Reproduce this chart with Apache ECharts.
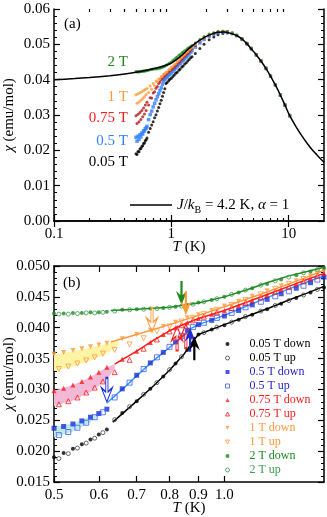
<!DOCTYPE html>
<html lang="en">
<head>
    <meta charset="UTF-8">
    <title>chi vs T</title>
    <script src="https://cdn.jsdelivr.net/npm/echarts@6/dist/echarts.min.js"></script>
    <style>
        html, body {margin: 0; padding: 0; background: #fff;}
        #chart {width: 327px; height: 517px;}
    </style>
</head>
<body>
<div id="chart"></div>
<script>
    // temperature grids (K): cooling ("down") and warming ("up") runs, high-T part of panel (a)
    let tDn = [0.50, 0.52, 0.54, 0.56, 0.58, 0.60, 0.62, 0.66, 0.70, 0.74, 0.78, 0.82, 0.86, 0.90, 0.95, 1.00, 1.06, 1.12, 1.19, 1.26, 1.34, 1.42, 1.50];
    let tUp = [0.51, 0.53, 0.55, 0.57, 0.59, 0.61, 0.64, 0.68, 0.72, 0.76, 0.80, 0.84, 0.88, 0.92, 0.97, 1.03, 1.09, 1.16, 1.23, 1.30, 1.38, 1.46];
    let hiT = [1.6, 1.75, 1.9, 2.1, 2.3, 2.5, 2.75, 3.0, 3.3, 3.6, 4.0, 4.4, 4.8, 5.3, 5.8, 6.4, 7.0, 7.7, 8.5, 9.3, 10.2];

    // chi (emu/mol)
    let chi005Dn = [0.0190, 0.0197, 0.0204, 0.0211, 0.0219, 0.0227, 0.0235, 0.0262, 0.0281, 0.0301, 0.0321, 0.0342, 0.0364, 0.0389, 0.0397, 0.0404, 0.0413, 0.0421, 0.0430, 0.0439, 0.0448, 0.0457, 0.0465];
    let chi005Up = [0.0188, 0.0196, 0.0205, 0.0213, 0.0221, 0.0230, 0.0251, 0.0272, 0.0292, 0.0311, 0.0332, 0.0353, 0.0374, 0.0392, 0.0401, 0.0409, 0.0418, 0.0427, 0.0436, 0.0444, 0.0453, 0.0462];
    let chi05Dn = [0.0237, 0.0240, 0.0244, 0.0249, 0.0255, 0.0261, 0.0268, 0.0301, 0.0323, 0.0343, 0.0360, 0.0377, 0.0396, 0.0405, 0.0412, 0.0419, 0.0428, 0.0437, 0.0446, 0.0455, 0.0464, 0.0473, 0.0482];
    let chi05Up = [0.0226, 0.0231, 0.0238, 0.0246, 0.0255, 0.0263, 0.0287, 0.0311, 0.0333, 0.0352, 0.0369, 0.0387, 0.0401, 0.0408, 0.0416, 0.0424, 0.0433, 0.0442, 0.0451, 0.0459, 0.0468, 0.0478];
    let chi075Dn = [0.0298, 0.0302, 0.0307, 0.0313, 0.0320, 0.0328, 0.0336, 0.0349, 0.0362, 0.0376, 0.0389, 0.0400, 0.0408, 0.0415, 0.0422, 0.0428, 0.0436, 0.0444, 0.0453, 0.0462, 0.0471, 0.0480, 0.0488];
    let chi075Up = [0.0276, 0.0281, 0.0287, 0.0295, 0.0303, 0.0313, 0.0328, 0.0348, 0.0366, 0.0381, 0.0394, 0.0404, 0.0412, 0.0418, 0.0425, 0.0432, 0.0440, 0.0449, 0.0458, 0.0466, 0.0475, 0.0484];
    let chi1Dn = [0.0357, 0.0360, 0.0363, 0.0366, 0.0369, 0.0372, 0.0375, 0.0382, 0.0389, 0.0396, 0.0402, 0.0409, 0.0416, 0.0421, 0.0428, 0.0435, 0.0443, 0.0451, 0.0460, 0.0468, 0.0476, 0.0484, 0.0492];
    let chi1Up = [0.0333, 0.0337, 0.0342, 0.0347, 0.0352, 0.0358, 0.0364, 0.0373, 0.0383, 0.0394, 0.0402, 0.0410, 0.0416, 0.0422, 0.0429, 0.0437, 0.0445, 0.0454, 0.0463, 0.0471, 0.0479, 0.0488];
    let chi2Dn = [0.0423, 0.0423, 0.0424, 0.0424, 0.0425, 0.0425, 0.0426, 0.0429, 0.0430, 0.0431, 0.0432, 0.0434, 0.0437, 0.0441, 0.0445, 0.0450, 0.0457, 0.0464, 0.0471, 0.0478, 0.0485, 0.0491, 0.0497];
    let chi2Up = [0.0422, 0.0422, 0.0423, 0.0424, 0.0424, 0.0425, 0.0427, 0.0429, 0.0430, 0.0431, 0.0433, 0.0435, 0.0438, 0.0442, 0.0447, 0.0454, 0.0461, 0.0469, 0.0476, 0.0482, 0.0489, 0.0494];

    let hi005 = [0.0474, 0.0488, 0.0500, 0.0513, 0.0521, 0.0527, 0.0531, 0.0532, 0.0530, 0.0524, 0.0514, 0.0501, 0.0487, 0.0469, 0.0452, 0.0431, 0.0409, 0.0384, 0.0355, 0.0327, 0.0297];
    let hi05 = [0.0492, 0.0504, 0.0514, 0.0523, 0.0529, 0.0533, 0.0535, 0.0535, 0.0531, 0.0525, 0.0515, 0.0502, 0.0488, 0.0470, 0.0453, 0.0432, 0.0410, 0.0385, 0.0356, 0.0328, 0.0298];
    let hi075 = [0.0497, 0.0509, 0.0518, 0.0526, 0.0531, 0.0535, 0.0536, 0.0536, 0.0532, 0.0526, 0.0516, 0.0503, 0.0489, 0.0471, 0.0454, 0.0433, 0.0411, 0.0386, 0.0357, 0.0329, 0.0299];
    let hi1 = [0.0500, 0.0511, 0.0520, 0.0528, 0.0533, 0.0537, 0.0538, 0.0537, 0.0533, 0.0527, 0.0517, 0.0504, 0.0490, 0.0472, 0.0455, 0.0434, 0.0412, 0.0387, 0.0358, 0.0330, 0.0300];
    let hi2 = [0.0504, 0.0514, 0.0522, 0.0529, 0.0533, 0.0536, 0.0537, 0.0536, 0.0532, 0.0526, 0.0516, 0.0503, 0.0489, 0.0471, 0.0454, 0.0433, 0.0411, 0.0386, 0.0357, 0.0329, 0.0299];

    // calculation J/kB = 4.2 K, alpha = 1
    let thT = [0.1, 0.15, 0.2, 0.3, 0.4, 0.5, 0.6, 0.7, 0.8, 0.9, 1.0, 1.2, 1.4, 1.6, 1.9, 2.2, 2.5, 2.8, 3.2, 3.6, 4.0, 4.4, 4.8, 5.3, 5.8, 6.4, 7.0, 7.7, 8.5, 9.3, 10.2, 11.5, 13, 14.5, 16, 18, 20];
    let thChi = [0.0400, 0.0403, 0.0406, 0.0411, 0.0416, 0.0421, 0.0426, 0.0431, 0.0436, 0.0441, 0.0447, 0.0466, 0.0487, 0.0503, 0.0519, 0.0529, 0.0534, 0.0535, 0.0531, 0.0525, 0.0515, 0.0502, 0.0487, 0.0470, 0.0453, 0.0432, 0.0410, 0.0385, 0.0356, 0.0328, 0.0298, 0.0268, 0.0240, 0.0218, 0.0200, 0.0182, 0.0166];

    // guide lines in panel (b)
    let line005T = [0.635, 0.70, 0.75, 0.80, 0.85, 0.88, 0.90, 1.0, 1.1, 1.2, 1.3, 1.4, 1.5];
    let line005 = [0.0247, 0.0281, 0.0306, 0.0331, 0.0358, 0.0378, 0.0389, 0.0405, 0.0419, 0.0432, 0.0445, 0.0456, 0.0467];
    let line05T = [0.62, 0.66, 0.70, 0.75, 0.80, 0.85, 0.87, 0.90, 1.0, 1.1, 1.2, 1.3, 1.4, 1.5];
    let line05 = [0.0278, 0.0300, 0.0322, 0.0347, 0.0368, 0.0388, 0.0398, 0.0405, 0.0420, 0.0436, 0.0450, 0.0463, 0.0474, 0.0484];
    let line075T = [0.64, 0.70, 0.75, 0.80, 0.85, 0.90, 1.0, 1.1, 1.2, 1.3, 1.4, 1.5];
    let line075 = [0.0341, 0.0362, 0.0380, 0.0395, 0.0406, 0.0415, 0.0428, 0.0442, 0.0455, 0.0467, 0.0478, 0.0488];
    let line1T = [0.63, 0.70, 0.80, 0.90, 1.0, 1.1, 1.2, 1.3, 1.4, 1.5];
    let line1 = [0.0377, 0.0389, 0.0405, 0.0420, 0.0434, 0.0447, 0.0459, 0.0471, 0.0482, 0.0493];
    let line2T = [0.63, 0.70, 0.80, 0.90, 1.0, 1.1, 1.2, 1.3, 1.4, 1.5];
    let line2 = [0.0428, 0.0430, 0.0433, 0.0440, 0.0450, 0.0462, 0.0474, 0.0484, 0.0491, 0.0498];

    // hysteresis bands
    let band1T = [0.50, 0.54, 0.58, 0.62, 0.65];
    let band1Hi = [0.0357, 0.0362, 0.0368, 0.0374, 0.0378];
    let band1Lo = [0.0330, 0.0337, 0.0347, 0.0358, 0.0372];
    let band075T = [0.50, 0.54, 0.58, 0.62, 0.64];
    let band075Hi = [0.0298, 0.0307, 0.0320, 0.0336, 0.0341];
    let band075Lo = [0.0273, 0.0282, 0.0296, 0.0316, 0.0334];
    let band05T = [0.50, 0.54, 0.58, 0.61];
    let band05Hi = [0.0239, 0.0245, 0.0256, 0.0266];
    let band05Lo = [0.0222, 0.0232, 0.0247, 0.0262];

    // arrow tips (T, chi)
    let arrowT = [0.84, 0.855, 0.745, 0.825, 0.855, 0.62, 0.87, 0.885];
    let arrowChi = [0.0437, 0.0420, 0.0393, 0.0402, 0.0406, 0.0280, 0.0400, 0.0386];

    let topTicks = [0.1, 1, 10];
    let topMinor = [0.2, 0.3, 0.4, 0.5, 0.6, 0.7, 0.8, 0.9, 2, 3, 4, 5, 6, 7, 8, 9];
    let botTicks = [0.5, 0.6, 0.7, 0.8, 0.9, 1.0];

    function pairs(ts, vs) {
        return ts.map(function (t, i) { return [t, vs[i]]; });
    }

    let serif = 'Liberation Serif';
    let black = '#000';
    let blue = '#2f80ff', blueDk = '#1c2fd6', blueLn = '#3399ff', blueTx = '#2424c8', blueOpen = '#3b5bff';
    let red = '#ff1a1a', redDk = '#b3161b';
    let orange = '#ff9a3a';
    let green = '#1e8a1e', greenLt = '#3a9a50';
    let triDown = 'path://M0,0 L10,0 L5,10 Z';

    let downPath = 'path://M4,0 L6,0 L6,14 L10,10 L5,24 L0,10 L4,14 Z';
    let upPath = 'path://M5,0 L10,14 L6,10 L6,24 L4,24 L4,10 L0,14 Z';
    let arrowLook = [
        ['down', green, false], ['down', orange, false], ['down', orange, true],
        ['up', red, true], ['up', red, true], ['down', blueDk, true],
        ['up', blueDk, false], ['up', black, false]
    ];
    let arrowData = arrowT.map(function (t, i) {
        let a = arrowLook[i];
        return {
            coord: [t, arrowChi[i]],
            symbol: a[0] === 'down' ? downPath : upPath,
            symbolSize: [11, 24],
            symbolOffset: [0, a[0] === 'down' ? -12 : 12],
            itemStyle: a[2] ? {color: 'none', borderColor: a[1], borderWidth: 1.3} : {color: a[1]}
        };
    });

    function bandSeries(ts, lo, hi, color) {
        return {
            type: 'custom', xAxisIndex: 4, yAxisIndex: 3, silent: true, z: 1,
            data: ts.map(function (t, i) { return [t, lo[i], hi[i]]; }),
            encode: {x: 0, y: [1, 2]},
            renderItem: function (params, api) {
                if (params.dataIndex !== 0) return null;
                let pts = [];
                ts.forEach(function (t, i) { pts.push(api.coord([t, hi[i]])); });
                for (let i = ts.length - 1; i >= 0; i--) pts.push(api.coord([ts[i], lo[i]]));
                return {type: 'polygon', shape: {points: pts}, style: {fill: color}};
            }
        };
    }

    function topScatter(name, dn, up, hi, color, symbol, size) {
        return {
            name: name, type: 'scatter', xAxisIndex: 0, yAxisIndex: 0,
            symbol: symbol, symbolSize: size, itemStyle: {color: color},
            data: pairs(tDn, dn).concat(pairs(tUp, up), pairs(hiT, hi))
        };
    }

    function openStyle(color) {
        return {color: 'none', borderColor: color, borderWidth: 1};
    }

    function botScatter(name, ts, vs, color, symbol, size, open) {
        return {
            name: name, type: 'scatter', xAxisIndex: 4, yAxisIndex: 3, z: 4,
            symbol: symbol, symbolSize: size,
            itemStyle: open ? openStyle(color) : {color: color},
            data: pairs(ts, vs)
        };
    }

    function botLine(ts, vs, color) {
        return {
            type: 'line', xAxisIndex: 4, yAxisIndex: 3, z: 3, symbol: 'none', silent: true,
            lineStyle: {color: color, width: 1.5}, data: pairs(ts, vs)
        };
    }

    let labelFont = {fontFamily: serif, fontSize: 15, color: black};
    let nameStyle = {
        fontFamily: serif, fontSize: 15, color: black,
        rich: {i: {fontFamily: serif, fontSize: 15, fontStyle: 'italic', color: black}}
    };
    let frameLine = {show: true, lineStyle: {color: black, width: 1.5}};

    function logAxis(grid, pos, min, max, ticks, len, labels, fmt) {
        return {
            type: 'log', gridIndex: grid, position: pos, min: min, max: max,
            axisLine: len > 3 ? frameLine : {show: false},
            axisTick: {inside: true, length: len, customValues: ticks, lineStyle: {color: black, width: 1.2}},
            axisLabel: labels ? Object.assign({customValues: ticks, margin: 6, formatter: fmt}, labelFont) : {show: false},
            splitLine: {show: false}
        };
    }

    function valAxis(grid, pos, min, max, step, labels, digits) {
        return {
            type: 'value', gridIndex: grid, position: pos, min: min, max: max, interval: step,
            axisLine: frameLine,
            axisTick: {inside: true, length: 6, lineStyle: {color: black, width: 1.2}},
            minorTick: {show: true, splitNumber: 5, length: 3, lineStyle: {color: black, width: 1}},
            axisLabel: labels ? Object.assign({margin: 4, formatter: function (v) { return v.toFixed(digits); }}, labelFont) : {show: false},
            splitLine: {show: false}
        };
    }

    let xs = [
        logAxis(0, 'bottom', 0.1, 20, topTicks, 6, true, function (v) { return String(v); }),
        logAxis(0, 'top', 0.1, 20, topTicks, 6, false),
        logAxis(2, 'bottom', 0.1, 20, topMinor, 3, false),
        logAxis(2, 'top', 0.1, 20, topMinor, 3, false),
        logAxis(1, 'bottom', 0.5, 1.5, botTicks, 6, true, function (v) { return v.toFixed(1); }),
        logAxis(1, 'top', 0.5, 1.5, botTicks, 6, false)
    ];
    xs[0].name = '{i|T} (K)';
    xs[4].name = '{i|T} (K)';
    [xs[0], xs[4]].forEach(function (a) {
        a.nameLocation = 'middle';
        a.nameGap = 19;
        a.nameMoveOverlap = false;
        a.nameTextStyle = nameStyle;
    });

    let ys = [
        valAxis(0, 'left', 0, 0.06, 0.01, true, 2),
        valAxis(0, 'right', 0, 0.06, 0.01, false),
        {type: 'value', gridIndex: 2, show: false, min: 0, max: 1},
        valAxis(1, 'left', 0.015, 0.05, 0.005, true, 3),
        valAxis(1, 'right', 0.015, 0.05, 0.005, false)
    ];
    [ys[0], ys[3]].forEach(function (a) {
        a.name = '{i|χ} (emu/mol)';
        a.nameLocation = 'middle';
        a.nameGap = 37;
        a.nameMoveOverlap = false;
        a.nameTextStyle = nameStyle;
    });

    let legendB = [
        ['0.05 T down', black, black, false], ['0.05 T up', black, '#444', true],
        ['0.5 T down', blueTx, blueDk, false], ['0.5 T up', blueTx, blueOpen, true],
        ['0.75 T down', red, red, false], ['0.75 T up', red, red, true],
        ['1 T down', orange, orange, false], ['1 T up', orange, orange, true],
        ['2 T down', green, green, false], ['2 T up', greenLt, greenLt, true]
    ].map(function (d) {
        return {name: d[0], textStyle: {color: d[1]}, itemStyle: d[3] ? openStyle(d[2]) : {color: d[2], borderWidth: 0}};
    });

    function tag(text, x, y, color) {
        return {
            type: 'text', x: x, y: y, silent: true,
            style: {text: text, fill: color, font: '15px "Liberation Serif"', align: 'right', verticalAlign: 'middle'}
        };
    }

    let option = {
        animation: false,
        backgroundColor: '#fff',
        textStyle: {fontFamily: serif},
        grid: [
            {left: 54, right: 3, top: 9, height: 212, outerBoundsMode: 'none', containLabel: false},
            {left: 54, right: 3, top: 266, height: 216, outerBoundsMode: 'none', containLabel: false},
            {left: 54, right: 3, top: 9, height: 212, outerBoundsMode: 'none', containLabel: false}
        ],
        xAxis: xs,
        yAxis: ys,
        legend: [
            {
                data: [{name: 'theory', icon: 'path://M0,0 L40,0 L40,1.5 L0,1.5 Z'}],
                left: 125, top: 190, itemWidth: 42, itemHeight: 2, selectedMode: false,
                formatter: function () { return '{i|J}/{i|k}{s|B} = 4.2 K, {i|α} = 1'; },
                textStyle: {
                    fontFamily: serif, fontSize: 15, color: black, lineHeight: 20,
                    rich: {
                        i: {fontFamily: serif, fontSize: 15, fontStyle: 'italic', lineHeight: 20},
                        s: {fontFamily: serif, fontSize: 10, lineHeight: 10, verticalAlign: 'bottom'}
                    }
                }
            },
            {
                data: legendB, orient: 'vertical', left: 218, top: 333, itemWidth: 4, itemHeight: 4, itemGap: 2,
                selectedMode: false,
                textStyle: {fontFamily: serif, fontSize: 12, padding: [0, 0, 0, 15]}
            }
        ],
        graphic: [
            {type: 'text', x: 64, y: 24, silent: true, style: {text: '(a)', fill: black, font: '15px "Liberation Serif"', verticalAlign: 'middle'}},
            {type: 'text', x: 63, y: 283, silent: true, style: {text: '(b)', fill: black, font: '15px "Liberation Serif"', verticalAlign: 'middle'}},
            tag('2 T', 128, 62, green),
            tag('1 T', 128, 97, orange),
            tag('0.75 T', 128, 118, red),
            tag('0.5 T', 128, 141, blue),
            tag('0.05 T', 128, 162, black)
        ],
        series: [
            {
                name: 'theory', type: 'line', xAxisIndex: 0, yAxisIndex: 0, symbol: 'none', smooth: 0.2,
                lineStyle: {color: black, width: 1.5}, itemStyle: {color: black}, data: pairs(thT, thChi)
            },
            topScatter('a 0.05 T', chi005Dn, chi005Up, hi005, black, 'circle', 3),
            topScatter('a 0.5 T', chi05Dn, chi05Up, hi05, blue, 'rect', 3.5),
            topScatter('a 0.75 T', chi075Dn, chi075Up, hi075, redDk, 'circle', 3),
            topScatter('a 1 T', chi1Dn, chi1Up, hi1, orange, 'circle', 3),
            topScatter('a 2 T', chi2Dn, chi2Up, hi2, green, 'circle', 3),

            bandSeries(band1T, band1Lo, band1Hi, '#fff3a6'),
            bandSeries(band075T, band075Lo, band075Hi, '#f2b8d6'),
            bandSeries(band05T, band05Lo, band05Hi, '#bfe9e4'),
            botLine(line005T, line005, black),
            botLine(line05T, line05, blueLn),
            botLine(line075T, line075, red),
            botLine(line1T, line1, orange),
            botLine(line2T, line2, green),
            botScatter('0.05 T down', tDn, chi005Dn, black, 'circle', 4, false),
            botScatter('0.05 T up', tUp, chi005Up, '#444', 'circle', 4, true),
            botScatter('0.5 T down', tDn, chi05Dn, blueDk, 'rect', 5, false),
            botScatter('0.5 T up', tUp, chi05Up, blueOpen, 'rect', 5, true),
            botScatter('0.75 T down', tDn, chi075Dn, red, 'triangle', 5, false),
            botScatter('0.75 T up', tUp, chi075Up, red, 'triangle', 5, true),
            botScatter('1 T down', tDn, chi1Dn, orange, triDown, 5, false),
            botScatter('1 T up', tUp, chi1Up, orange, triDown, 5, true),
            botScatter('2 T down', tDn, chi2Dn, green, 'circle', 4, false),
            Object.assign(botScatter('2 T up', tUp, chi2Up, greenLt, 'circle', 4, true), {
                markPoint: {silent: true, label: {show: false}, data: arrowData}
            })
        ]
    };

    let myChart = echarts.init(document.getElementById('chart'));
    myChart.setOption(option);
</script>
</body>
</html>
